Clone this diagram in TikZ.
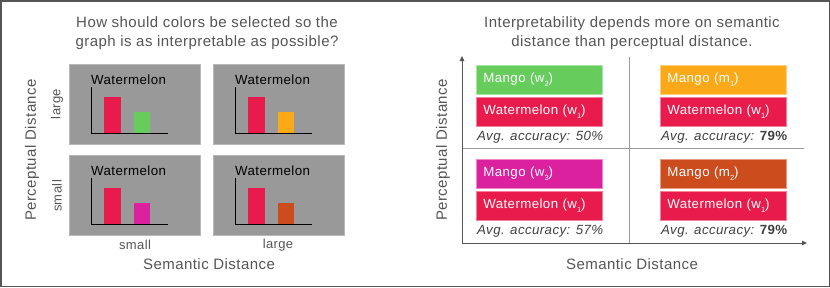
\documentclass[tikz,border=0pt]{standalone}
\usepackage{fontspec}
\setmainfont{Liberation Sans}[LetterSpace=3]
\usepackage{xcolor}
\usetikzlibrary{arrows.meta,positioning}
\definecolor{ink}     {HTML}{555555}
\definecolor{panel}   {HTML}{999999}
\definecolor{panelrim}{HTML}{B8B8B8}
\definecolor{grid}    {HTML}{9A9A9A}
\definecolor{melon}   {HTML}{E91A4C}
\definecolor{lime}    {HTML}{66CD5C}
\definecolor{mangoOr} {HTML}{FBA919}
\definecolor{orchid}  {HTML}{DC219E}
\definecolor{rust}    {HTML}{CC4C1E}
\newcommand{\lowsub}[1]{\raisebox{-0.5ex}{\fontsize{7.5}{8}\selectfont #1}}
\tikzset{
  heading/.style={font=\fontsize{15}{19}\selectfont, text=ink, align=center, inner sep=0pt},
  axislabel/.style={font=\fontsize{15}{17}\selectfont, text=ink, inner sep=0pt},
  ticklabel/.style={font=\fontsize{13}{15}\selectfont, text=ink, inner sep=0pt},
  chartbox/.style={fill=panel, draw=panelrim, line width=0.8pt, minimum width=131pt,
                   minimum height=80pt, inner sep=0pt},
  charttitle/.style={font=\fontsize{13.3}{15}\selectfont, inner sep=0pt},
  swatch/.style={fill=#1, draw=#1!55!white, line width=0.8pt, minimum height=29pt,
                 inner xsep=7pt, inner ysep=0pt, text width=112pt, align=left,
                 text=white, font=\fontsize{13.3}{15}\selectfont},
  accuracy/.style={font=\fontsize{13.3}{15}\selectfont\itshape, text=black!75, inner sep=0pt},
  axisline/.style={draw=ink, line width=1pt, -{Triangle[length=5pt,width=4.5pt]}},
  divider/.style={draw=grid, line width=0.9pt},
}
\begin{document}
\begin{tikzpicture}[x=1pt,y=-1pt]
 \useasboundingbox (0,0) rectangle (830,287);
 \draw[ink, line width=1.5pt] (0.75,0.75) rectangle (829.25,286.25);
 % left panel
 \node[heading] (qtitle) at (207,33.5)
   {How should colors be selected so the\\graph is as interpretable as possible?};
 \foreach \nm/\bx/\by/\col in {tl/69/64/lime, tr/213/64/mangoOr, bl/69/155/orchid, br/213/155/rust}{
   \node[chartbox, anchor=north west] (box\nm) at (\bx,\by) {};
   \node[charttitle, anchor=west] (title\nm) at (\bx+22,\by+16) {Watermelon};
   \fill[melon] (\bx+35,\by+69) rectangle (\bx+52,\by+33);
   \fill[\col] (\bx+65,\by+69) rectangle (\bx+81,\by+48);
   \draw[line width=1pt] (\bx+22,\by+23) -- (\bx+22,\by+69) -- (\bx+99,\by+69);
 }
 \node[ticklabel, rotate=90] (plarge) at (57,104) {large};
 \node[ticklabel, rotate=90] (psmall) at (57,196) {small};
 \node[axislabel, rotate=90] (pdist) at (32,150) {Perceptual Distance};
 \node[ticklabel] (ssmall) at (135,245) {small};
 \node[ticklabel] (slarge) at (278,245) {large};
 \node[axislabel] (sdist) at (209,264) {Semantic Distance};
 % right panel
 \node[heading] (atitle) at (632,33.5)
   {Interpretability depends more on semantic\\distance than perceptual distance.};
 \coordinate (origin) at (462,243);
 \coordinate (ytop)   at (462,56);
 \coordinate (xend)   at (807,243);
 \coordinate (vtop)   at (629,57);
 \coordinate (vbot)   at (629,243);
 \coordinate (hleft)  at (462,148);
 \coordinate (hright) at (804,148);
 \draw[divider] (vtop) -- (vbot);
 \draw[divider] (hleft) -- (hright);
 \draw[axisline] (origin) -- (ytop);
 \draw[axisline] (origin) -- (xend);
 \node[axislabel, rotate=90] (pdistR) at (443,150) {Perceptual Distance};
 \node[axislabel] (sdistR) at (632,264) {Semantic Distance};
 \foreach \nm/\bx/\by/\col/\sub/\acc in {a/476/65/lime/w\lowsub{2}/50\%,
     b/660/65/mangoOr/m\lowsub{1}/\textbf{\upshape 79\%},
     c/476/159/orchid/w\lowsub{3}/57\%,
     d/660/159/rust/m\lowsub{2}/\textbf{\upshape 79\%}}{
   \node[swatch=\col, anchor=north west] (mango\nm) at (\bx,\by) {Mango (\sub)};
   \node[swatch=melon, below=2pt of mango\nm] (melon\nm) {Watermelon (w\lowsub{1})};
   \node[accuracy, below right=4pt and 1pt of melon\nm.south west] (acc\nm)
     {Avg. accuracy: \acc};
 }
\end{tikzpicture}
\end{document}
